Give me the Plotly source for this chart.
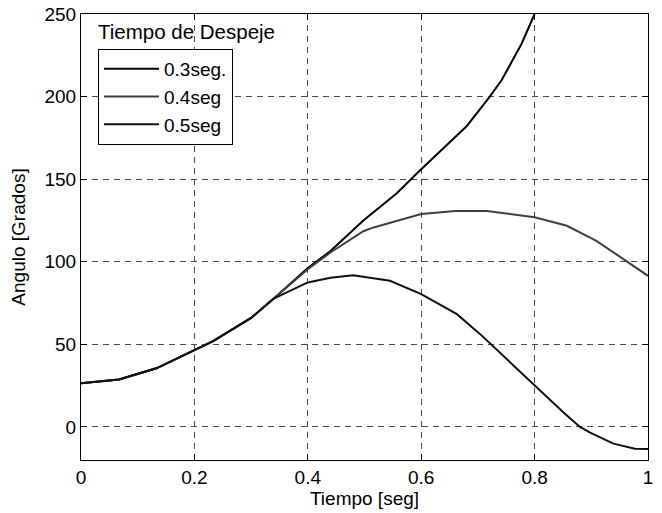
import plotly.graph_objects as go

# shared initial segment (all three clearing times coincide here)
x_common = [0.0, 0.067, 0.133, 0.2, 0.233, 0.3, 0.339]
y_common = [26.5, 28.8, 35.5, 46.7, 52.0, 66.0, 77.5]

# tails after divergence
x_03 = [0.4, 0.44, 0.498, 0.557, 0.6, 0.68, 0.721, 0.742, 0.777, 0.8]
y_03 = [96.2, 106.5, 125.0, 141.5, 156.0, 182.0, 200.0, 210.0, 232.0, 250.0]

x_04 = [0.4, 0.44, 0.498, 0.516, 0.6, 0.66, 0.716, 0.8, 0.857, 0.909, 0.96, 1.0]
y_04 = [95.5, 105.6, 118.5, 120.8, 128.9, 130.7, 130.8, 126.9, 121.8, 112.7, 100.8, 91.5]

x_05 = [0.4, 0.44, 0.48, 0.527, 0.545, 0.6, 0.663, 0.704, 0.742, 0.8, 0.851, 0.88, 0.898, 0.939, 0.977, 1.0]
y_05 = [87.5, 90.3, 91.9, 89.5, 88.5, 80.4, 68.3, 56.2, 44.0, 25.0, 8.7, 0.0, -3.4, -10.1, -13.2, -13.3]

names = ["0.3seg.", "0.4seg", "0.5seg"]
colors = ["#000000", "#404040", "#111111"]

x_ticks = [0, 0.2, 0.4, 0.6, 0.8, 1]
x_ticklabels = ["0", "0.2", "0.4", "0.6", "0.8", "1"]
y_ticks = [0, 50, 100, 150, 200, 250]

FONT = "Liberation Sans, Arial, sans-serif"

fig = go.Figure()
for name, col, xt, yt in zip(names, colors, [x_03, x_04, x_05], [y_03, y_04, y_05]):
    fig.add_trace(go.Scatter(
        x=x_common + xt, y=y_common + yt, mode="lines", name=name,
        line=dict(color=col, width=2), showlegend=True,
    ))

axis_common = dict(
    showline=True, linecolor="black", linewidth=1, mirror="ticks",
    ticks="inside", ticklen=6, tickcolor="black", tickwidth=1,
    showgrid=True, gridcolor="#4a4a4a", gridwidth=1, griddash="6px,5px",
    zeroline=False, automargin=False,
    tickfont=dict(family=FONT, size=19, color="black"),
)

fig.update_xaxes(range=[0, 1], tickvals=x_ticks, ticktext=x_ticklabels,
                 title=dict(text="Tiempo [seg]", font=dict(family=FONT, size=19, color="black"), standoff=4),
                 **axis_common)
fig.update_yaxes(range=[-20, 250], tickvals=y_ticks,
                 title=dict(text="Angulo [Grados]", font=dict(family=FONT, size=19, color="black"), standoff=13),
                 **axis_common)

fig.update_layout(
    width=662, height=513,
    margin=dict(l=81, r=14, t=14, b=53),
    paper_bgcolor="white", plot_bgcolor="white",
    font=dict(family=FONT, color="black"),
    legend=dict(x=0.03, y=0.9215, xanchor="left", yanchor="top",
                bgcolor="white", bordercolor="black", borderwidth=1,
                font=dict(family=FONT, size=19, color="black"),
                itemwidth=55, tracegroupgap=0),
    annotations=[dict(text="Tiempo de Despeje", xref="paper", yref="paper",
                      x=0.027, y=0.99, xanchor="left", yanchor="top", showarrow=False,
                      font=dict(family=FONT, size=20.5, color="black"))],
)

fig.write_html("out.html", config={"displayModeBar": False},
               post_script="document.body.style.margin='0';document.body.style.overflow='hidden';")
